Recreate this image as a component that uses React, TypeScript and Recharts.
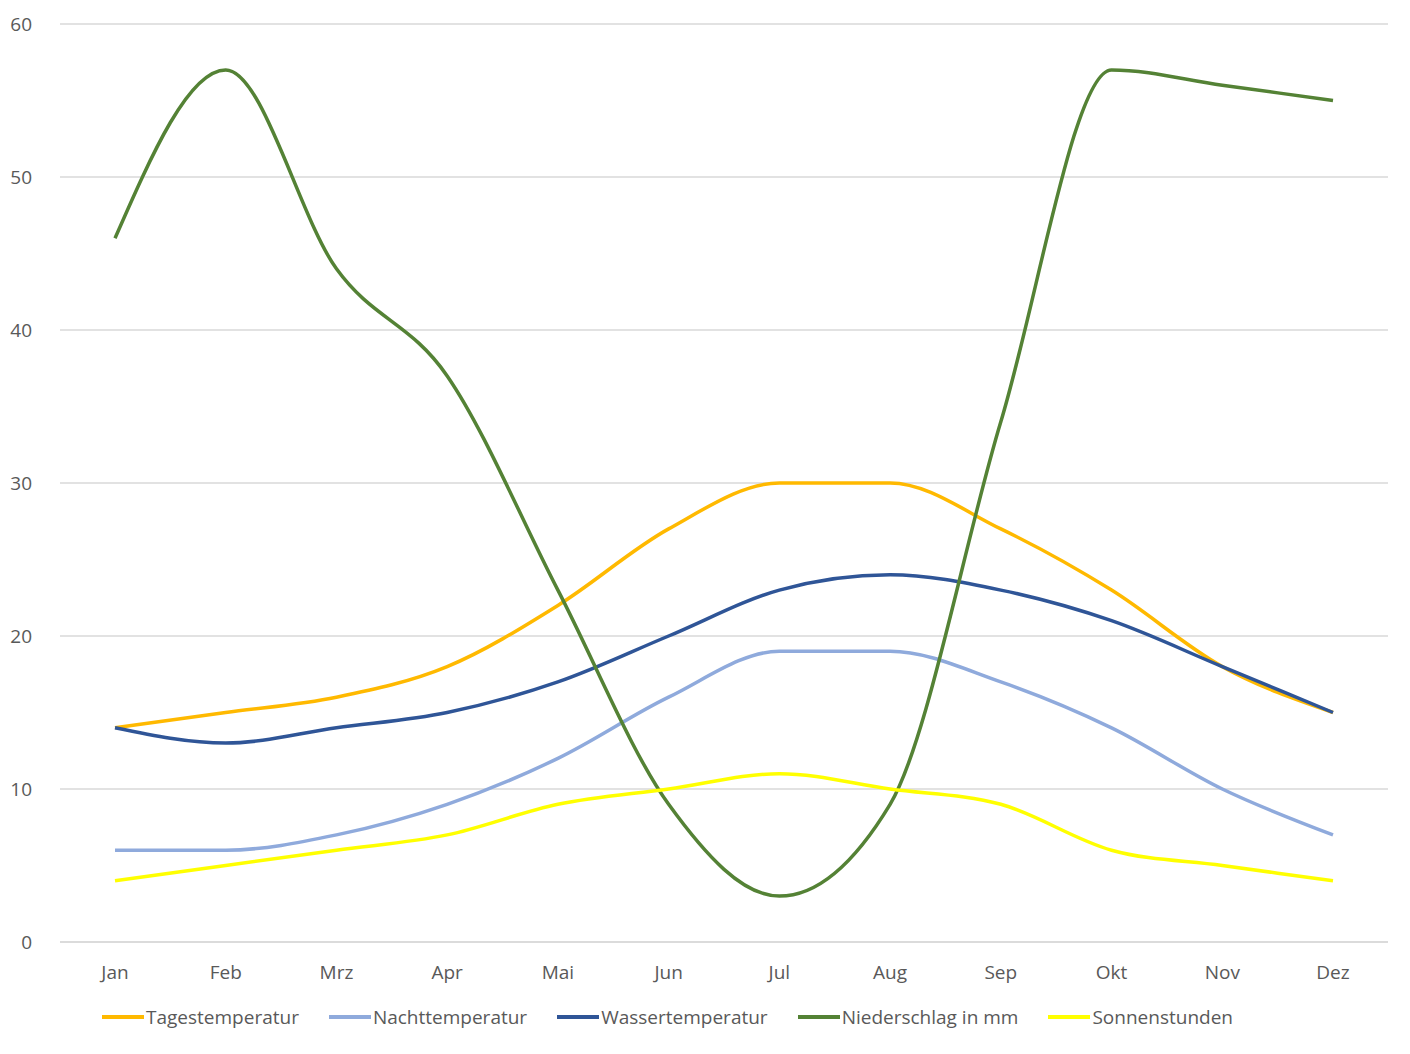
import React from 'react'
import { LineChart, Line, XAxis, YAxis, CartesianGrid, Legend } from 'recharts'

const months = ['Jan', 'Feb', 'Mrz', 'Apr', 'Mai', 'Jun', 'Jul', 'Aug', 'Sep', 'Okt', 'Nov', 'Dez']
const tages = [14, 15, 16, 18, 22, 27, 30, 30, 27, 23, 18, 15]
const nacht = [6, 6, 7, 9, 12, 16, 19, 19, 17, 14, 10, 7]
const wasser = [14, 13, 14, 15, 17, 20, 23, 24, 23, 21, 18, 15]
const niederschlag = [46, 57, 44, 37, 23, 9, 3, 9, 34, 57, 56, 55]
const sonne = [4, 5, 6, 7, 9, 10, 11, 10, 9, 6, 5, 4]
const yTicks = [0, 10, 20, 30, 40, 50, 60]

const SERIES = [
  { key: 'tages', label: 'Tagestemperatur', color: '#ffb900' },
  { key: 'nacht', label: 'Nachttemperatur', color: '#8faadc' },
  { key: 'wasser', label: 'Wassertemperatur', color: '#2f5597' },
  { key: 'nieder', label: 'Niederschlag in mm', color: '#548235' },
  { key: 'sonne', label: 'Sonnenstunden', color: '#ffff00' },
]

const data = months.map((m, i) => ({
  month: m,
  tages: tages[i],
  nacht: nacht[i],
  wasser: wasser[i],
  nieder: niederschlag[i],
  sonne: sonne[i],
}))

const font = '"Open Sans", sans-serif'

function LegendBox() {
  return (
    <div style={{ display: 'flex', paddingLeft: 102, fontFamily: font, fontSize: 19, color: '#595959' }}>
      {SERIES.map((s) => (
        <div key={s.key} style={{ display: 'flex', alignItems: 'center', marginRight: 30 }}>
          <div style={{ width: 42, height: 4, background: s.color, marginRight: 2 }} />
          <span>{s.label}</span>
        </div>
      ))}
    </div>
  )
}

export default function App() {
  return (
    <div style={{ position: 'absolute', left: 0, top: 0, background: '#fff' }}>
      <LineChart width={1410} height={1054} data={data} margin={{ top: 24, right: 22, left: 0, bottom: 14 }}>
        <CartesianGrid vertical={false} stroke="#d9d9d9" strokeWidth={1.3} />
        <XAxis dataKey="month" height={62} tickLine={false} padding={{ left: 55, right: 55 }}
          axisLine={{ stroke: '#d9d9d9', strokeWidth: 1.3 }}
          tick={{ fontSize: 19, fill: '#595959', fontFamily: font }} tickMargin={18} />
        <YAxis domain={[0, 60]} ticks={yTicks} width={60} tickLine={false} axisLine={false}
          tick={{ fontSize: 19, fill: '#595959', fontFamily: font }} tickMargin={22} />
        <Legend verticalAlign="bottom" height={36} content={() => <LegendBox />} />
        {SERIES.map((s) => (
          <Line key={s.key} type="monotone" dataKey={s.key} name={s.label} stroke={s.color}
            strokeWidth={3.5} dot={false} isAnimationActive={false} />
        ))}
      </LineChart>
    </div>
  )
}
